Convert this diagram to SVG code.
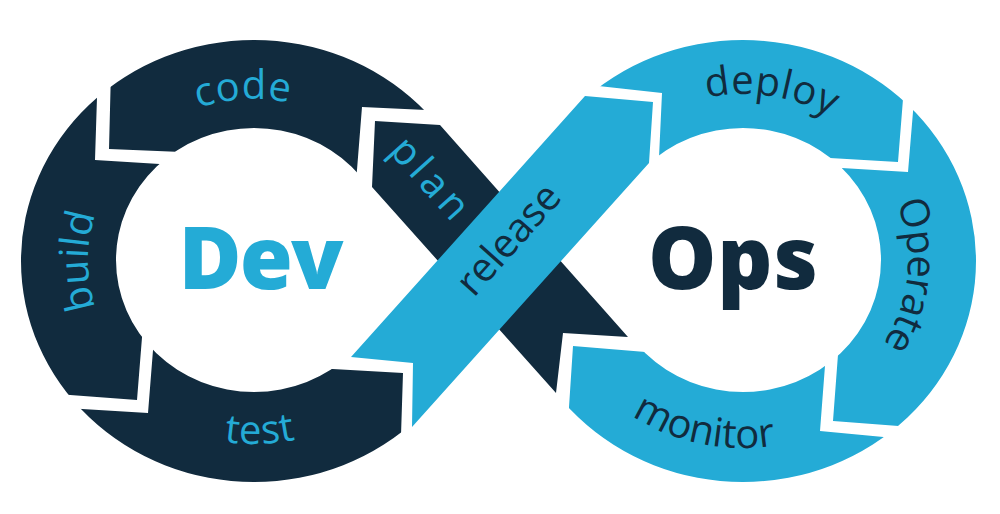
<svg xmlns="http://www.w3.org/2000/svg" xmlns:xlink="http://www.w3.org/1999/xlink" width="1000" height="514" viewBox="0 0 1000 514">
<style>
.dark{fill:#112b3e}
.blue{fill:#24abd6}
.lbl{font-family:"Open Sans","Noto Sans","Liberation Sans",sans-serif;font-size:40px;font-weight:400}
.lblB{fill:#24abd6}
.lblD{fill:#112b3e}
.big{font-family:"Open Sans","Noto Sans","Liberation Sans",sans-serif;font-size:86px;font-weight:800;text-anchor:middle}
</style>
<defs>
<path id="ringL" fill-rule="evenodd" d="M21,261 A233,221 0 1 0 487,261 A233,221 0 1 0 21,261 Z M116,260 A138,132 0 1 0 392,260 A138,132 0 1 0 116,260 Z"/>
<path id="ringR" fill-rule="evenodd" d="M510,261 A233,221 0 1 0 976,261 A233,221 0 1 0 510,261 Z M605,260 A138,132 0 1 0 881,260 A138,132 0 1 0 605,260 Z"/>
<clipPath id="cCode"><polygon points="113,-10 109,149 230,154 354.6,200 362,107 490,113 490,-10"/></clipPath>
<clipPath id="cBuild"><polygon points="98.2,60 -10,60 -10,389 137,400 145,300 200,166.5 95,160"/></clipPath>
<clipPath id="cTest"><polygon points="-10,403.3 148,413 157,300 280,366 403,373 398.3,520 -10,520"/></clipPath>
<clipPath id="cDeploy"><polygon points="560,81.7 662,93 657,200 800,156.2 898,162 907.7,40 907.7,-10 560,-10"/></clipPath>
<clipPath id="cOperate"><polygon points="917.3,60 908,172 800,165.6 840.6,320 833,421 1010,434.6 1010,60"/></clipPath>
<clipPath id="cMonitor"><polygon points="573,346 700,356.4 828.5,320 820,431 960,444.3 960,520 561.6,520"/></clipPath>
<path id="tpCode" d="M116.2,165.1 A171,162 0 0 1 377.6,149.1"/>
<path id="tpBuild" d="M147.3,381.7 A166,157.5 0 0 1 147.3,140.3"/>
<path id="tpTest" d="M134.6,404.8 A193,183 0 0 0 382.6,397.5"/>
<path id="tpDeploy" d="M628,134.6 A176,167 0 0 1 894.2,175.5"/>
<path id="tpOperate" d="M859.7,150.3 A165,156.5 0 0 1 837.6,389.2"/>
<path id="tpMonitor" d="M576.7,361.2 A197,187 0 0 0 848.6,418.9"/>
</defs>
<rect width="1000" height="514" fill="#ffffff"/>

<g id="code">
<use href="#ringL" class="dark" clip-path="url(#cCode)"/>
<text class="lbl lblB"><textPath href="#tpCode" startOffset="50%" text-anchor="middle" textLength="92">code</textPath></text>
</g>
<g id="build">
<use href="#ringL" class="dark" clip-path="url(#cBuild)"/>
<text class="lbl lblB"><textPath href="#tpBuild" startOffset="50%" text-anchor="middle" textLength="95">build</textPath></text>
</g>
<g id="test">
<use href="#ringL" class="dark" clip-path="url(#cTest)"/>
<text class="lbl lblB"><textPath href="#tpTest" startOffset="50%" text-anchor="middle" textLength="72">test</textPath></text>
</g>
<g id="deploy">
<use href="#ringR" class="blue" clip-path="url(#cDeploy)"/>
<text class="lbl lblD"><textPath href="#tpDeploy" startOffset="50%" text-anchor="middle" textLength="128">deploy</textPath></text>
</g>
<g id="operate">
<use href="#ringR" class="blue" clip-path="url(#cOperate)"/>
<text class="lbl lblD"><textPath href="#tpOperate" startOffset="50%" text-anchor="middle" textLength="148">Operate</textPath></text>
</g>
<g id="monitor">
<use href="#ringR" class="blue" clip-path="url(#cMonitor)"/>
<text class="lbl lblD"><textPath href="#tpMonitor" startOffset="50%" text-anchor="middle" textLength="150">monitor</textPath></text>
</g>
<g id="plan">
<polygon class="dark" points="375,121 440,125 628,337 563,333 556,393 372,187"/>
<text class="lbl lblB" text-anchor="middle" transform="translate(420,187) rotate(48.2)" textLength="96">plan</text>
</g>
<g id="release">
<polygon class="blue" points="585,96 653,102 649,163 412,427 413,363 351,357"/>
<text class="lbl lblD" text-anchor="middle" transform="translate(518.5,248.2) rotate(-48.2)" textLength="134">release</text>
</g>
<g id="dev">
<text class="big" x="261" y="289" fill="#24abd6" textLength="165">Dev</text>
</g>
<g id="ops">
<text class="big" x="733" y="289" fill="#112b3e" textLength="170">Ops</text>
</g>
</svg>
